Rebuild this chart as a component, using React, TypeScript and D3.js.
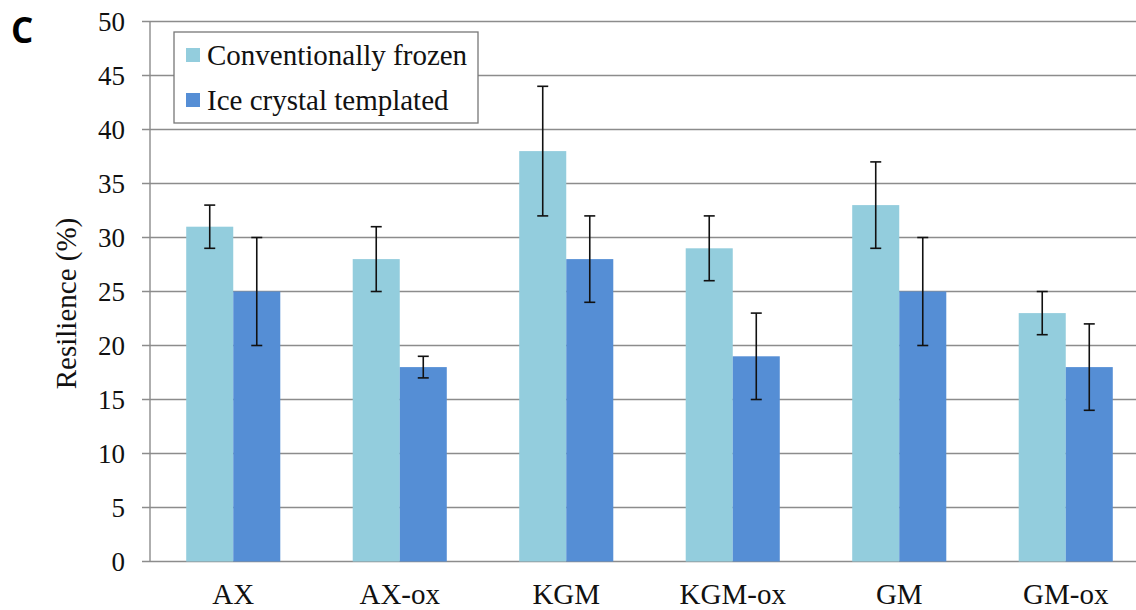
import { useMemo } from "react";
import * as d3 from "d3";

const categories = ["AX", "AX-ox", "KGM", "KGM-ox", "GM", "GM-ox"];
const seriesNames = ["Conventionally frozen", "Ice crystal templated"];
const conventional = [31, 28, 38, 29, 33, 23];
const conventionalErr = [2, 3, 6, 3, 4, 2];
const templated = [25, 18, 28, 19, 25, 18];
const templatedErr = [5, 1, 4, 4, 5, 4];
const yTicks = [0, 5, 10, 15, 20, 25, 30, 35, 40, 45, 50];
const colors = ["#93CDDD", "#558ED5"];

const W = 1136;
const H = 610;
const margin = { left: 150, top: 21.5, bottom: 48.5 };
const plotRight = 1149; // plot runs past the right edge of the picture

export default function App() {
  const { x, inner, y } = useMemo(() => {
    const x = d3.scaleBand<string>().domain(categories).range([margin.left, plotRight]).padding(0);
    const inner = d3
      .scaleBand<string>()
      .domain(seriesNames)
      .range([0, x.bandwidth()])
      .paddingInner(0)
      .paddingOuter(0.77);
    const y = d3.scaleLinear().domain([0, 50]).range([H - margin.bottom, margin.top]);
    return { x, inner, y };
  }, []);

  const series = [
    { name: seriesNames[0], values: conventional, errs: conventionalErr, color: colors[0] },
    { name: seriesNames[1], values: templated, errs: templatedErr, color: colors[1] },
  ];

  const grid = "#8c8c8c";
  const serif = "'Liberation Serif', 'Times New Roman', serif";
  const cap = 5.5;

  return (
    <svg width={W} height={H} style={{ position: "absolute", left: 0, top: 0, background: "#fff" }}>
      <rect width={W} height={H} fill="#fff" />

      {/* gridlines + y ticks */}
      {yTicks.map((t) => (
        <g key={t}>
          <line x1={margin.left - 8} x2={plotRight} y1={y(t)} y2={y(t)} stroke={grid} strokeWidth={1.4} />
          <text
            x={margin.left - 25}
            y={y(t)}
            dy="0.35em"
            textAnchor="end"
            fontFamily={serif}
            fontSize={27}
            fill="#111"
          >
            {t}
          </text>
        </g>
      ))}
      <line x1={margin.left} x2={margin.left} y1={y(50)} y2={y(0)} stroke={grid} strokeWidth={1.4} />

      {/* bars */}
      {series.map((s) =>
        categories.map((c, i) => {
          const bx = (x(c) ?? 0) + (inner(s.name) ?? 0);
          return (
            <rect
              key={s.name + c}
              x={bx}
              y={y(s.values[i])}
              width={inner.bandwidth()}
              height={y(0) - y(s.values[i])}
              fill={s.color}
            />
          );
        })
      )}

      {/* error bars */}
      {series.map((s) =>
        categories.map((c, i) => {
          const cx = (x(c) ?? 0) + (inner(s.name) ?? 0) + inner.bandwidth() / 2;
          const top = y(s.values[i] + s.errs[i]);
          const bot = y(s.values[i] - s.errs[i]);
          return (
            <g key={"e" + s.name + c} stroke="#111" strokeWidth={1.6}>
              <line x1={cx} x2={cx} y1={top} y2={bot} />
              <line x1={cx - cap} x2={cx + cap} y1={top} y2={top} />
              <line x1={cx - cap} x2={cx + cap} y1={bot} y2={bot} />
            </g>
          );
        })
      )}

      {/* x labels */}
      {categories.map((c) => (
        <text
          key={c}
          x={(x(c) ?? 0) + x.bandwidth() / 2}
          y={604}
          textAnchor="middle"
          fontFamily={serif}
          fontSize={29}
          fill="#111"
        >
          {c}
        </text>
      ))}

      {/* y axis title */}
      <text
        transform={`translate(76, ${(y(0) + y(50)) / 2 + 12}) rotate(-90)`}
        textAnchor="middle"
        fontFamily={serif}
        fontSize={29}
        fill="#111"
      >
        Resilience (%)
      </text>

      {/* legend */}
      <rect x={174} y={32} width={304} height={91} fill="#fff" stroke="#777" strokeWidth={1.3} />
      {series.map((s, i) => (
        <g key={"l" + s.name} transform={`translate(186, ${55 + i * 45})`}>
          <rect x={0} y={-7} width={14} height={14} fill={s.color} />
          <text x={21} y={0} dy="0.35em" fontFamily={serif} fontSize={29} fill="#111">
            {s.name}
          </text>
        </g>
      ))}

      {/* panel letter */}
      <text x={11} y={43} fontFamily="'Open Sans', 'Liberation Sans', sans-serif" fontWeight="bold" fontSize={35} fill="#000">
        C
      </text>
    </svg>
  );
}
